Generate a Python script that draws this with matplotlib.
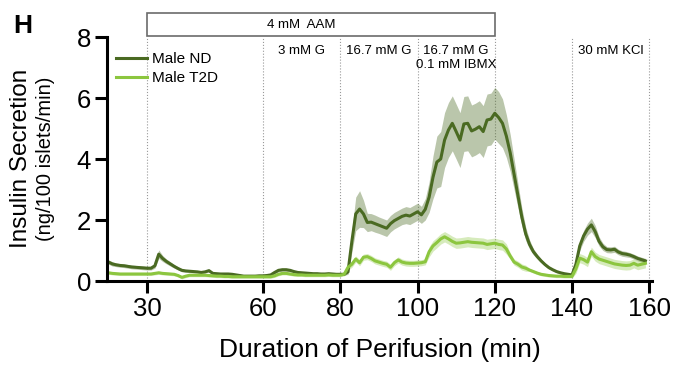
import numpy as np
import matplotlib
matplotlib.use("Agg")
import matplotlib.pyplot as plt
from matplotlib.patches import Rectangle

plt.rcParams['font.family'] = ['Liberation Sans', 'DejaVu Sans']

# perifusion time points (min)
time_min = np.arange(20, 160)

# Male ND mean insulin secretion (ng/100 islets/min)
nd_mean = [0.62, 0.56, 0.53, 0.51, 0.50, 0.48, 0.46, 0.45, 0.44, 0.43,
           0.42, 0.42, 0.50, 0.88, 0.74, 0.64, 0.56, 0.48, 0.41, 0.35,
           0.33, 0.32, 0.31, 0.30, 0.28, 0.30, 0.34, 0.25, 0.24, 0.23,
           0.23, 0.23, 0.22, 0.20, 0.18, 0.16, 0.16, 0.16, 0.16, 0.17,
           0.17, 0.18, 0.20, 0.28, 0.35, 0.37, 0.37, 0.35, 0.31, 0.28,
           0.27, 0.26, 0.25, 0.24, 0.24, 0.23, 0.23, 0.24, 0.23, 0.22,
           0.22, 0.22, 0.30, 1.30, 2.20, 2.36, 2.20, 1.92, 1.93, 1.88,
           1.83, 1.78, 1.73, 1.88, 1.98, 2.05, 2.12, 2.16, 2.13, 2.20,
           2.27, 2.17, 2.35, 2.75, 3.40, 3.90, 4.00, 4.62, 4.95, 5.17,
           4.90, 4.62, 5.15, 5.17, 4.92, 4.98, 5.06, 4.90, 5.28, 5.31,
           5.50, 5.36, 5.17, 4.75, 4.20, 3.50, 2.80, 2.10, 1.55, 1.20,
           0.96, 0.80, 0.66, 0.54, 0.44, 0.37, 0.31, 0.27, 0.24, 0.22,
           0.20, 0.55, 1.15, 1.48, 1.70, 1.84, 1.62, 1.30, 1.12, 1.03,
           1.02, 1.04, 0.95, 0.90, 0.88, 0.85, 0.80, 0.74, 0.70, 0.66]
nd_sem = [0.07, 0.07, 0.06, 0.06, 0.06, 0.06, 0.06, 0.06, 0.06, 0.06,
          0.06, 0.06, 0.08, 0.14, 0.10, 0.08, 0.07, 0.06, 0.05, 0.05,
          0.04, 0.04, 0.04, 0.04, 0.04, 0.04, 0.04, 0.04, 0.04, 0.04,
          0.04, 0.04, 0.04, 0.04, 0.04, 0.04, 0.04, 0.04, 0.04, 0.04,
          0.04, 0.04, 0.04, 0.05, 0.05, 0.05, 0.05, 0.05, 0.04, 0.04,
          0.04, 0.04, 0.04, 0.04, 0.04, 0.04, 0.04, 0.04, 0.04, 0.04,
          0.04, 0.04, 0.08, 0.35, 0.55, 0.60, 0.45, 0.30, 0.28, 0.28,
          0.27, 0.27, 0.27, 0.27, 0.27, 0.27, 0.27, 0.28, 0.28, 0.28,
          0.28, 0.28, 0.35, 0.50, 0.70, 0.85, 0.90, 0.90, 0.90, 0.90,
          0.90, 0.90, 0.90, 0.90, 0.85, 0.85, 0.85, 0.85, 0.85, 0.85,
          0.85, 0.85, 0.80, 0.70, 0.60, 0.50, 0.40, 0.30, 0.22, 0.15,
          0.10, 0.08, 0.06, 0.05, 0.05, 0.04, 0.04, 0.04, 0.04, 0.04,
          0.04, 0.10, 0.15, 0.18, 0.20, 0.22, 0.20, 0.15, 0.12, 0.10,
          0.10, 0.10, 0.09, 0.09, 0.09, 0.08, 0.08, 0.08, 0.08, 0.08]

# Male T2D mean insulin secretion
t2d_mean = [0.27, 0.25, 0.24, 0.23, 0.23, 0.23, 0.23, 0.23, 0.23, 0.23,
            0.23, 0.23, 0.25, 0.27, 0.25, 0.24, 0.23, 0.22, 0.18, 0.12,
            0.16, 0.19, 0.19, 0.19, 0.19, 0.19, 0.18, 0.17, 0.16, 0.16,
            0.15, 0.15, 0.14, 0.14, 0.14, 0.14, 0.14, 0.14, 0.14, 0.14,
            0.14, 0.14, 0.14, 0.17, 0.22, 0.25, 0.25, 0.23, 0.21, 0.20,
            0.20, 0.19, 0.19, 0.19, 0.19, 0.19, 0.19, 0.20, 0.19, 0.19,
            0.19, 0.22, 0.45, 0.55, 0.72, 0.60, 0.78, 0.80, 0.74, 0.66,
            0.62, 0.58, 0.55, 0.45, 0.60, 0.69, 0.62, 0.59, 0.58, 0.58,
            0.59, 0.60, 0.63, 0.96, 1.15, 1.26, 1.38, 1.45, 1.38, 1.30,
            1.24, 1.25, 1.27, 1.29, 1.27, 1.26, 1.25, 1.24, 1.20, 1.22,
            1.24, 1.20, 1.18, 1.05, 0.82, 0.62, 0.55, 0.46, 0.42, 0.36,
            0.31, 0.26, 0.22, 0.20, 0.18, 0.17, 0.16, 0.16, 0.15, 0.15,
            0.15, 0.40, 0.75, 0.70, 0.62, 0.96, 0.80, 0.72, 0.68, 0.64,
            0.60, 0.56, 0.54, 0.52, 0.51, 0.52, 0.58, 0.52, 0.55, 0.58]
t2d_sem = [0.05] * 62 + [0.10] * 21 + [0.17] * 21 + [0.10] * 5 + [0.05] * 12 + [0.15] * 19

nd_color = '#4a6a22'
t2d_color = '#8cc63f'

fig = plt.figure(figsize=(6.75, 3.65), dpi=100)
ax = fig.add_axes([0.1585, 0.2301, 0.8074, 0.6685])

nd_mean = np.array(nd_mean)
nd_sem = np.array(nd_sem)
t2d_mean = np.array(t2d_mean)
t2d_sem = np.array(t2d_sem)

ax.fill_between(time_min, nd_mean - nd_sem, nd_mean + nd_sem,
                color=nd_color, alpha=0.38, lw=0)
ax.fill_between(time_min, t2d_mean - t2d_sem, t2d_mean + t2d_sem,
                color=t2d_color, alpha=0.35, lw=0)
ax.plot(time_min, nd_mean, color=nd_color, lw=2.2, label='Male ND')
ax.plot(time_min, t2d_mean, color=t2d_color, lw=2.2, label='Male T2D')

# stimulus boundaries
for xb in [30, 60, 80, 100, 120, 140, 160]:
    ax.plot([xb, xb], [0, 7.97], color='#999999', lw=0.8, ls=':', zorder=0)

# AAM bar on top
ax.add_patch(Rectangle((30, 8.03), 90, 0.76, fill=False, edgecolor='#6b6b6b',
                       lw=1.2, clip_on=False))
ax.text(70, 8.41, '4 mM  AAM', ha='center', va='center', fontsize=9.5)

ax.text(70, 7.55, '3 mM G', ha='center', va='center', fontsize=9.5)
ax.text(90, 7.55, '16.7 mM G', ha='center', va='center', fontsize=9.5)
ax.text(110, 7.55, '16.7 mM G', ha='center', va='center', fontsize=9.5)
ax.text(110, 7.07, '0.1 mM IBMX', ha='center', va='center', fontsize=9.5)
ax.text(150, 7.55, '30 mM KCl', ha='center', va='center', fontsize=9.5)

ax.set_xlim(19.6, 160.7)
ax.set_ylim(0, 8)
ax.set_xticks([30, 60, 80, 100, 120, 140, 160])
ax.set_yticks([0, 2, 4, 6, 8])
for s in ['top', 'right']:
    ax.spines[s].set_visible(False)
for s in ['left', 'bottom']:
    ax.spines[s].set_linewidth(2.2)
ax.tick_params(width=2.2, length=8.5, labelsize=18.5, pad=3)

ax.set_xlabel('Duration of Perifusion (min)', fontsize=19, labelpad=12)
fig.text(0.031, 0.565, 'Insulin Secretion', rotation=90, ha='center',
         va='center', fontsize=17.5)
fig.text(0.068, 0.565, '(ng/100 islets/min)', rotation=90, ha='center',
         va='center', fontsize=14.5)
fig.text(0.033, 0.929, 'H', fontsize=19, fontweight='bold', ha='center',
         va='center')

ax.legend(loc='upper left', bbox_to_anchor=(0.0, 0.975), frameon=False,
          fontsize=11, handlelength=2.0, handletextpad=0.35,
          borderaxespad=0.2, labelspacing=0.3)

fig.savefig('out.png', dpi=100)
